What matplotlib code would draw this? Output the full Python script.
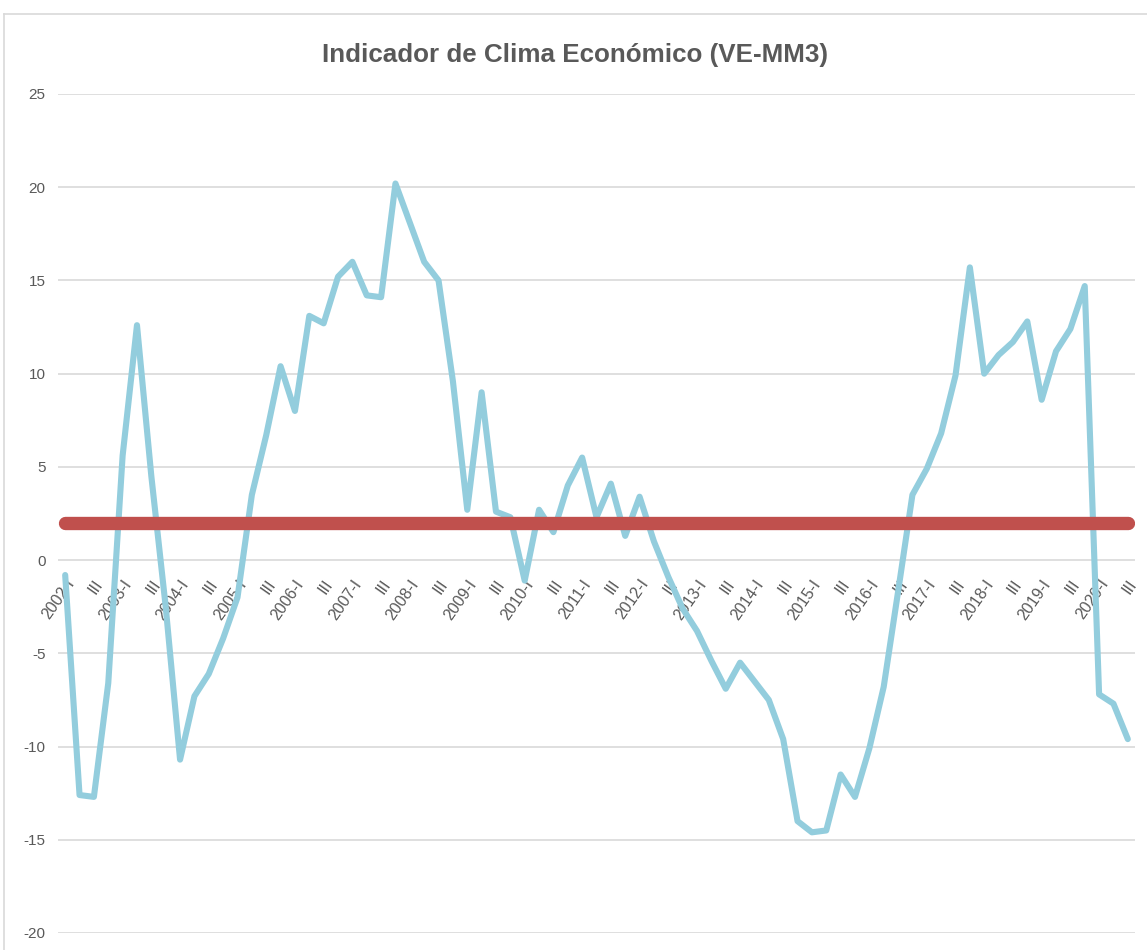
import matplotlib
matplotlib.use("Agg")
import matplotlib.pyplot as plt
from matplotlib.lines import Line2D
from matplotlib.transforms import ScaledTranslation

plt.rcParams["axes.unicode_minus"] = False

# quarterly indicator values, 2002-I .. 2020-III
values = [-0.8, -12.6, -12.7, -6.6, 5.6, 12.6, 4.5, -2.5,
          -10.7, -7.3, -6.1, -4.2, -2.0, 3.5, 6.7, 10.4,
          8.0, 13.1, 12.7, 15.2, 16.0, 14.2, 14.1, 20.2,
          18.1, 16.0, 15.0, 9.6, 2.7, 9.0, 2.6, 2.3,
          -1.1, 2.7, 1.5, 4.0, 5.5, 2.3, 4.1, 1.3,
          3.4, 1.0, -0.9, -2.6, -3.8, -5.4, -6.9, -5.5,
          -6.5, -7.5, -9.6, -14.0, -14.6, -14.5, -11.5, -12.7,
          -10.1, -6.8, -1.7, 3.5, 4.9, 6.8, 9.9, 15.7,
          10.0, 11.0, 11.7, 12.8, 8.6, 11.2, 12.4, 14.7,
          -7.2, -7.7, -9.6]
reference = [2.0] * len(values)
years = list(range(2002, 2021))
tick_labels = []
for y in years:
    tick_labels += [f"{y}-I", "III"]
tick_pos = list(range(0, len(values), 2))
yticks = [25, 20, 15, 10, 5, 0, -5, -10, -15, -20]

grey = "#595959"
sans = ["Liberation Sans", "DejaVu Sans"]

fig = plt.figure(figsize=(11.47, 9.5), dpi=100)
W, H = 1147, 950
ax = fig.add_axes([58 / W, 1 - 933 / H, (1135 - 58) / W, (933 - 94) / H])

x = list(range(len(values)))
ax.plot(x, values, color="#93CDDD", lw=4.4, solid_joinstyle="round",
        solid_capstyle="round", zorder=3)
ax.plot(x, reference, color="#C0504D", lw=9.6, solid_capstyle="round", zorder=4)

ax.set_xlim(-0.5, len(values) - 0.5)
ax.set_ylim(-20, 25)
ax.set_yticks(yticks)
ax.yaxis.grid(True, color="#D9D9D9", lw=1.2)
ax.set_axisbelow(True)
for s in ax.spines.values():
    s.set_visible(False)
ax.spines["bottom"].set_position(("data", 0))

ax.set_xticks(tick_pos)
ax.set_xticklabels(tick_labels, rotation=55, ha="right", va="center",
                   rotation_mode="anchor", family=sans,
                   fontsize=11.5, color=grey)
ax.tick_params(axis="x", length=0, pad=15)
ax.tick_params(axis="y", length=0, pad=9, labelsize=11, labelcolor=grey)
for lab in ax.get_yticklabels():
    lab.set_family(sans)
shift = ScaledTranslation(0.06, 0, fig.dpi_scale_trans)
for lab in ax.get_xticklabels():
    lab.set_transform(lab.get_transform() + shift)

fig.text(575 / W, 1 - 55 / H, "Indicador de Clima Económico (VE-MM3)",
         ha="center", va="center", fontsize=18.7, fontweight="bold",
         color=grey, family=sans)

# chart frame (cropped on right and bottom)
fig.add_artist(Line2D([4 / W, 1], [1 - 14 / H, 1 - 14 / H], color="#D9D9D9", lw=1.2))
fig.add_artist(Line2D([4 / W, 4 / W], [0, 1 - 14 / H], color="#D9D9D9", lw=1.2))

fig.savefig("out.png", dpi=100)
